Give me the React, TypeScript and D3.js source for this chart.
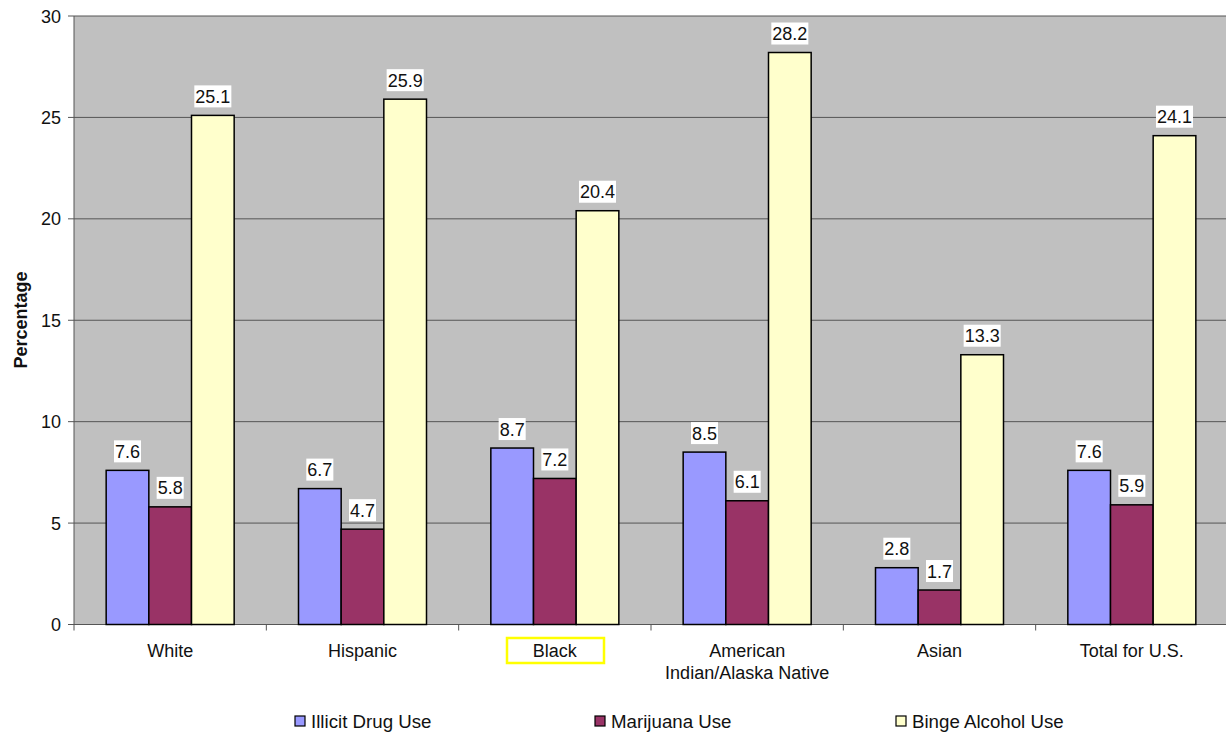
import React from "react";
import * as d3 from "d3";

const categories = ["White", "Hispanic", "Black", "American\nIndian/Alaska Native", "Asian", "Total for U.S."];
const seriesNames = ["Illicit Drug Use", "Marijuana Use", "Binge Alcohol Use"];
const illicit = [7.6, 6.7, 8.7, 8.5, 2.8, 7.6];
const marijuana = [5.8, 4.7, 7.2, 6.1, 1.7, 5.9];
const binge = [25.1, 25.9, 20.4, 28.2, 13.3, 24.1];
const yTicks = [0, 5, 10, 15, 20, 25, 30];
const colors = ["#9999FF", "#993366", "#FFFFCC"];

const W = 1226, H = 736;
const plot = { left: 74, right: 1228, top: 16, bottom: 624.5 };

export default function App() {
  const series = [illicit, marijuana, binge];
  const x0 = d3.scaleBand<string>().domain(categories).range([plot.left, plot.right]).paddingInner(0).paddingOuter(0);
  const groupW = 128;
  const x1 = d3.scaleBand<string>().domain(seriesNames).range([0, groupW]).padding(0);
  const y = d3.scaleLinear().domain([0, 30]).range([plot.bottom, plot.top]);
  const font = "Arial, 'Liberation Sans', sans-serif";
  const legendX = [295, 595, 896];
  const fs = 18;

  return (
    <svg width={W} height={H} style={{ position: "absolute", left: 0, top: 0 }} fontFamily={font}>
      <rect x={plot.left} y={plot.top} width={plot.right - plot.left} height={plot.bottom - plot.top} fill="#C0C0C0" />
      {yTicks.map((t) => (
        <g key={t}>
          {t > 0 && <line x1={plot.left} x2={plot.right} y1={y(t)} y2={y(t)} stroke="#555" strokeWidth={1} />}
          <line x1={plot.left - 6} x2={plot.left} y1={y(t)} y2={y(t)} stroke="#555" />
          <text x={61} y={y(t) + 6.5} textAnchor="end" fontSize={fs} fill="#111">{t}</text>
        </g>
      ))}
      <line x1={plot.left} x2={plot.left} y1={plot.top} y2={plot.bottom} stroke="#555" />
      <line x1={plot.left} x2={plot.right} y1={plot.bottom} y2={plot.bottom} stroke="#555" />
      {categories.map((c, i) => {
        const bx = x0(c)!;
        const bw = x0.bandwidth();
        const gx = bx + (bw - groupW) / 2;
        const lines = c.split("\n");
        return (
          <g key={c}>
            <line x1={bx} x2={bx} y1={plot.bottom} y2={plot.bottom + 6} stroke="#555" />
            {series.map((s, j) => {
              const v = s[i];
              const rx = gx + x1(seriesNames[j])!;
              const rw = x1.bandwidth();
              const ty = y(v);
              const label = v.toFixed(1);
              const lw = fs * ((label.length - 1) * 0.556 + 0.278) + 2;
              return (
                <g key={j}>
                  <rect x={rx} y={ty} width={rw} height={plot.bottom - ty} fill={colors[j]} stroke="#000" strokeWidth={1.5} />
                  <rect x={rx + rw / 2 - lw / 2} y={ty - 30} width={lw} height={22} fill="#fff" />
                  <text x={rx + rw / 2} y={ty - 12.5} textAnchor="middle" fontSize={fs} fill="#111">{label}</text>
                </g>
              );
            })}
            {c === "Black" && (
              <rect x={507} y={638} width={97} height={25} fill="none" stroke="#FFFF00" strokeWidth={2.5} />
            )}
            {lines.map((ln, k) => (
              <text key={k} x={bx + bw / 2} y={656.5 + k * 22.5} textAnchor="middle" fontSize={fs} fill="#111">{ln}</text>
            ))}
          </g>
        );
      })}
      <text transform={`translate(27,320) rotate(-90)`} textAnchor="middle" fontSize={fs} fontWeight="bold" fill="#111">Percentage</text>
      {seriesNames.map((n, j) => (
        <g key={n}>
          <rect x={legendX[j]} y={716} width={10} height={10} fill={colors[j]} stroke="#000" strokeWidth={1.2} />
          <text x={legendX[j] + 16} y={727.5} fontSize={18.7} fill="#111">{n}</text>
        </g>
      ))}
    </svg>
  );
}
